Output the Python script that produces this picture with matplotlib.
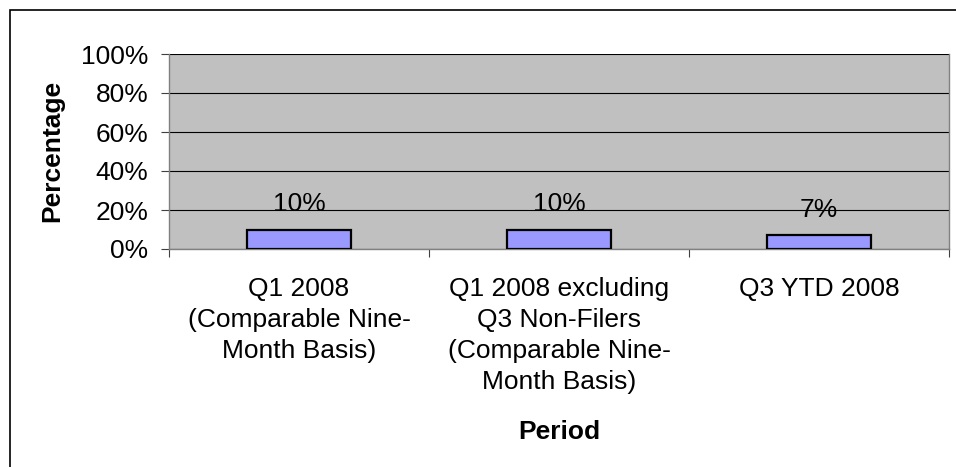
import numpy as np
import matplotlib.pyplot as plt
from matplotlib.patches import Rectangle
from matplotlib.ticker import PercentFormatter

periods = [
    "Q1 2008\n(Comparable Nine-\nMonth Basis)",
    "Q1 2008 excluding\nQ3 Non-Filers\n(Comparable Nine-\nMonth Basis)",
    "Q3 YTD 2008",
]
shares = [0.10, 0.10, 0.07]
y_ticks = [0.0, 0.2, 0.4, 0.6, 0.8, 1.0]

plt.rcParams['font.family'] = ['Liberation Sans', 'DejaVu Sans']
FS = 19

W, H = 956, 467
fig = plt.figure(figsize=(W / 100, H / 100), dpi=100)
ax = fig.add_axes([169 / W, 1 - 249 / H, 780 / W, 195 / H])

x = np.arange(len(periods))
ax.set_facecolor('#C0C0C0')
ax.set_axisbelow(True)
ax.bar(x, shares, width=0.40, color='#9999FF', edgecolor='black', linewidth=1.6, zorder=3)

for xi, v in zip(x, shares):
    ax.annotate(f"{v:.0%}", (xi, v), xytext=(0, 13.5), textcoords='offset points',
                ha='center', va='baseline', fontsize=FS, zorder=4)

ax.set_xlim(-0.5, len(periods) - 0.5)
ax.set_ylim(0, 1)
ax.set_yticks(y_ticks)
ax.yaxis.set_major_formatter(PercentFormatter(1.0, decimals=0))
ax.grid(True, axis='y', color='black', linewidth=0.8)
ax.tick_params(axis='y', labelsize=FS, length=6, width=0.8, color='#404040', pad=9)

# category labels centred, tick marks on the category boundaries
ax.set_xticks(x)
ax.set_xticklabels(periods, fontsize=FS, linespacing=1.37)
ax.tick_params(axis='x', which='major', length=0, pad=20)
ax.set_xticks(np.arange(-0.5, len(periods)), minor=True)
ax.tick_params(axis='x', which='minor', length=6, width=0.8, color='#404040')

for side in ['left', 'bottom', 'right']:
    ax.spines[side].set_color('#808080')
    ax.spines[side].set_linewidth(1.0)
ax.spines['top'].set_visible(False)

fig.text(52 / W, 1 - 151 / H, "Percentage", rotation=90, ha='center', va='center',
         fontsize=FS, fontweight='bold')
fig.text(559 / W, 1 - 432 / H, "Period", ha='center', va='center',
         fontsize=FS, fontweight='bold')

# chart frame
fig.patches.append(Rectangle((9.5 / W, -0.2), 1.2, 1.2 - 10 / H, transform=fig.transFigure,
                             fill=False, edgecolor='black', linewidth=1.2))

fig.savefig("out.png", dpi=100)
